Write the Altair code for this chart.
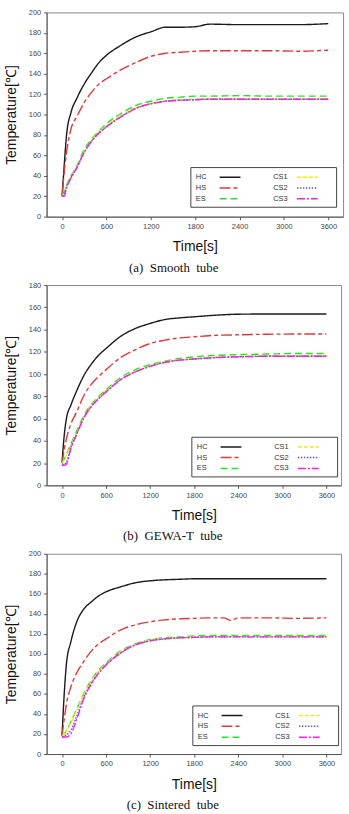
import altair as alt
import pandas as pd

# Series (also the column-wise legend order) and line styles
SERIES = ["HC", "HS", "ES", "CS1", "CS2", "CS3"]
COLORS = {"HC": "#1a1a1a", "HS": "#e0393a", "ES": "#2fdc2f",
          "CS1": "#ecec10", "CS2": "#5a5ae6", "CS3": "#ee22ee"}
DASHES = {"HC": [1, 0], "HS": [11, 3, 4, 3], "ES": [7, 4],
          "CS1": [4, 2], "CS2": [1.5, 1.5], "CS3": [8, 2, 2, 2]}

X_TICKS = [0, 600, 1200, 1800, 2400, 3000, 3600]

# ---- (a) Smooth tube ----
TIME_A = [0, 30, 60, 120, 200, 300, 400, 500, 600, 800, 1000, 1200, 1400,
          1600, 1800, 2000, 2400, 2800, 3200, 3600]
A_HC = [20, 52, 80, 102, 116, 130, 141, 151, 158, 168, 176, 181, 185.5,
        185.5, 186, 188.5, 188, 188, 188, 189]
A_HS = [20, 45, 63, 86, 98, 112, 122, 130, 135, 144, 151, 157, 160,
        161, 162, 162.5, 162.5, 162.5, 162, 163]
A_ES = [20, 25, 31, 40, 50, 66, 76, 84, 91, 101, 109, 113, 116,
        117, 118, 118, 118.5, 118, 118, 118]
A_CS1 = [20, 24, 30, 39, 49, 64, 75, 83, 89, 99, 107, 111, 113.5,
         114.5, 115, 115.5, 115.5, 115, 115, 115.5]
A_CS2 = [20, 23, 29, 38, 48, 63, 74, 82, 88, 98, 106, 110.5, 113,
         114, 114.5, 115, 115, 115, 115, 115]
A_CS3 = [20, 20, 28, 38, 48, 63, 74, 82, 88, 98, 106, 110.5, 113,
         114, 114.5, 115, 115, 115, 115, 115]

# ---- (b) GEWA-T tube ----
TIME_B = [0, 30, 60, 120, 200, 300, 400, 500, 600, 800, 1000, 1200, 1400,
          1600, 1800, 2000, 2400, 2800, 3200, 3600]
B_HC = [20, 45, 60, 72, 85, 99, 109, 117, 123, 134, 141, 145.5, 149,
        150.5, 151.5, 152.5, 153.8, 154, 154, 154]
B_HS = [20, 32, 42, 55, 66, 81, 91, 98, 104, 115, 122, 127.5, 130.5,
        132.5, 133.5, 134.5, 135.3, 135.8, 136, 136]
B_ES = [20, 24, 28, 37, 49, 63, 73, 80, 86, 97, 104, 108.5, 111.5,
        114, 115.5, 116.5, 117.5, 118, 118.5, 118.5]
B_CS1 = [20, 23, 27, 36, 47, 62, 72, 79, 85, 95.5, 102.5, 107.5, 111,
         113, 114, 115, 116, 116.5, 116.5, 116.5]
B_CS2 = [19, 19, 21, 34, 46, 61, 71, 78, 84, 95, 102, 107, 110.5,
         112.5, 113.5, 114.5, 115.5, 116, 116, 116]
B_CS3 = [18, 18, 19, 33, 46, 61, 71, 78, 84, 95, 102, 107, 110.5,
         112.5, 113.5, 114.5, 115.5, 116, 116, 116]

# ---- (c) Sintered tube ----
TIME_C = [0, 30, 60, 120, 200, 300, 400, 500, 600, 800, 1000, 1200, 1400,
          1600, 1800, 2000, 2200, 2300, 2400, 2800, 3200, 3600]
C_HC = [18, 60, 90, 112, 132, 145, 152, 158, 162, 167, 171, 173, 174,
        174.5, 175, 175, 175, 175, 175, 175, 175, 175]
C_HS = [18, 35, 50, 67, 81, 93, 103, 110, 115, 124, 129, 132, 134,
        135, 135.5, 136, 136, 133.5, 136, 136, 135.5, 136]
C_ES = [18, 20, 23, 32, 45, 61, 74, 84, 91, 103, 110, 114.5, 116,
        117, 118, 118.5, 118.5, 118.5, 118.5, 118.5, 118.5, 118.5]
C_CS1 = [18, 20, 23, 31, 44, 60, 73, 83, 90, 102, 109.5, 114, 115.5,
         116.5, 117, 117.5, 117.5, 117.5, 117.5, 117.5, 117.5, 117.5]
C_CS2 = [17, 18, 19, 24, 38, 57, 71, 81, 89, 101, 109, 113, 115,
         116, 116.5, 117, 117, 117, 117, 117, 117, 117]
C_CS3 = [17, 17, 17, 20, 35, 56, 70, 81, 89, 101, 109, 113, 115,
         116, 116.5, 117, 117, 117, 117, 117, 117, 117]

SANS = "Liberation Sans"
SERIF = "Liberation Serif"
NB = "\u00a0\u00a0"


def panel(time, curves, ymax, caption, width, height, lx, ly):
    rows = []
    for name in SERIES:
        for t, v in zip(time, curves[name]):
            rows.append({"time": t, "temp": v, "series": name})
    df = pd.DataFrame(rows)

    # label first, then a long line sample (a short symbol keeps rows compact,
    # the path reaches twice its nominal half-width)
    legend = alt.Legend(
        title="\u00a0", titleOrient="right", titlePadding=12, titleFontSize=6,
        orient="none", legendX=lx, legendY=ly, columns=2,
        symbolType="M-2,0H2", symbolSize=110, symbolStrokeWidth=1.5,
        symbolOffset=30,
        labelFont=SANS, labelFontSize=7.5, labelColor="#333",
        labelAlign="left", labelOffset=alt.ExprRef(expr="-40.5"),
        columnPadding=28, rowPadding=1, padding=4,
        strokeColor="#444", fillColor="white",
    )
    return alt.Chart(df).mark_line(strokeWidth=1.4, interpolate="monotone").encode(
        x=alt.X("time:Q",
                scale=alt.Scale(domain=[-210, 3800], nice=False, zero=False),
                axis=alt.Axis(values=X_TICKS, title="Time[s]", format="d")),
        y=alt.Y("temp:Q",
                scale=alt.Scale(domain=[0, ymax], nice=False),
                axis=alt.Axis(values=list(range(0, ymax + 1, 20)),
                              title="Temperature[℃]", format="d")),
        color=alt.Color("series:N",
                        scale=alt.Scale(domain=SERIES,
                                        range=[COLORS[s] for s in SERIES]),
                        legend=legend),
        strokeDash=alt.StrokeDash("series:N",
                                  scale=alt.Scale(domain=SERIES,
                                                  range=[DASHES[s] for s in SERIES]),
                                  legend=legend),
    ).properties(
        width=width, height=height,
        title=alt.TitleParams(caption, orient="bottom", anchor="middle",
                              frame="bounds", font=SERIF, fontSize=13,
                              fontWeight="normal", color="#111", offset=8),
    )


smooth = panel(TIME_A, dict(zip(SERIES, [A_HC, A_HS, A_ES, A_CS1, A_CS2, A_CS3])),
               200, f"(a){NB}Smooth{NB}tube", 299, 206, 145, 156)
gewa = panel(TIME_B, dict(zip(SERIES, [B_HC, B_HS, B_ES, B_CS1, B_CS2, B_CS3])),
             180, f"(b){NB}GEWA-T{NB}tube", 297, 202, 146, 153)
sintered = panel(TIME_C, dict(zip(SERIES, [C_HC, C_HS, C_ES, C_CS1, C_CS2, C_CS3])),
                 200, f"(c){NB}Sintered{NB}tube", 297, 202, 147, 153)

chart = alt.vconcat(smooth, gewa, sintered, spacing=5).resolve_scale(
    color="independent", strokeDash="independent",
).resolve_legend(
    color="independent", strokeDash="independent",
).properties(
    padding={"top": 4, "left": 3, "right": 5, "bottom": 2},
    background="white",
).configure_view(
    stroke="#8a8a8a", strokeWidth=1,
).configure_axis(
    grid=False, domainColor="#555", domainWidth=1, tickColor="#555",
    tickSize=3, labelFont=SANS, labelFontSize=7.5, labelColor="#444",
    labelPadding=3, titleFont=SANS, titleFontSize=14, titleFontWeight="normal",
    titleColor="#111", titlePadding=10,
)

chart.save("out.html", embed_options={"renderer": "svg", "actions": False})
